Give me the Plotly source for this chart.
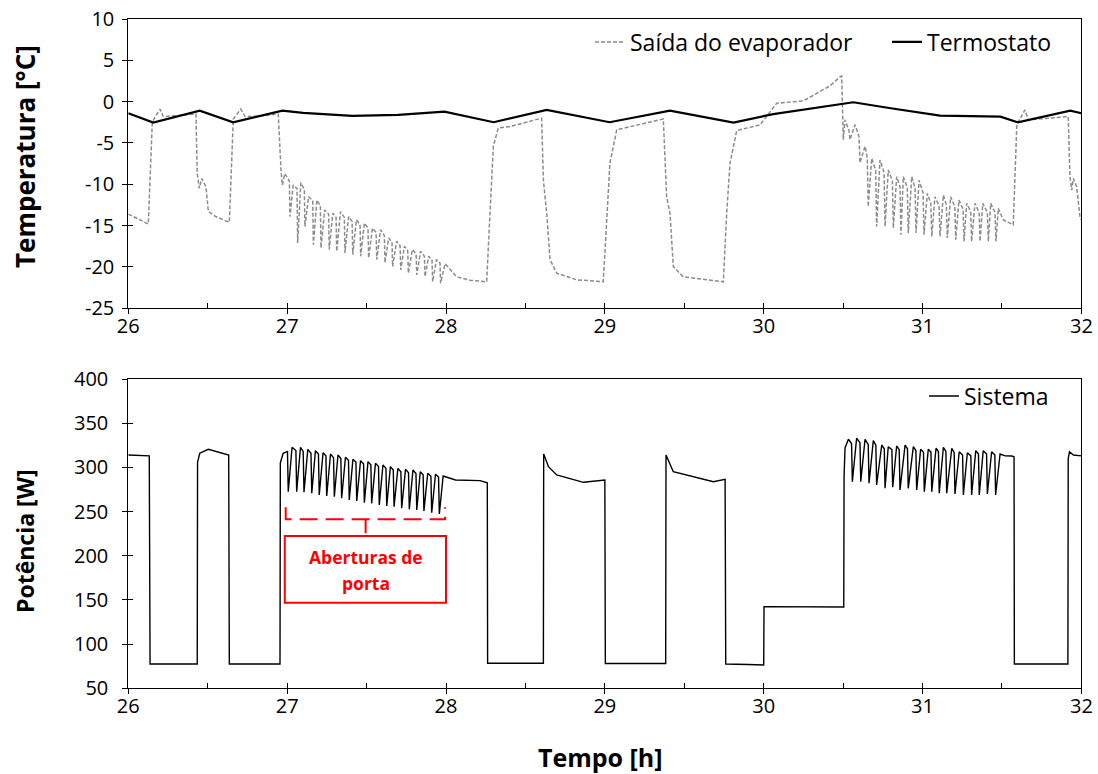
import plotly.graph_objects as go

# ---------------- data ----------------
# Termostato (solid black), top panel
termo_t = [26.00, 26.157, 26.45, 26.66, 26.97, 27.10, 27.41, 27.70, 27.99, 28.30, 28.634, 29.03,
           29.41, 29.81, 30.06, 30.42, 30.50, 30.564, 30.80, 31.11, 31.49, 31.60, 31.93, 32.00]
termo_T = [-1.4, -2.54, -1.09, -2.5, -1.09, -1.35, -1.73, -1.6, -1.2, -2.49, -1.0, -2.49,
           -1.09, -2.54, -1.5, -0.52, -0.32, -0.07, -0.8, -1.69, -1.81, -2.49, -1.09, -1.4]

# Saída do evaporador (dashed grey), top panel, split in segments
evap_t_a = [26.000, 26.060, 26.126, 26.151, 26.170, 26.200, 26.220, 26.300, 26.426, 26.434, 26.447,
            26.462, 26.489, 26.504, 26.550, 26.636, 26.661, 26.708, 26.735, 26.850, 26.944, 26.962]
evap_T_a = [-13.6, -14.2, -14.8, -2.5, -1.8, -0.9, -1.8, -1.7, -1.5, -8.7, -10.5,
            -9.3, -10.3, -13.3, -13.9, -14.6, -2.1, -0.9, -1.8, -1.7, -1.5, -8.5]

evap_t_door1 = [26.970, 26.985, 27.014, 27.018, 27.038, 27.062, 27.066, 27.086, 27.108,
                27.112, 27.135, 27.161, 27.165, 27.187, 27.209, 27.213, 27.236, 27.261,
                27.265, 27.287, 27.308, 27.312, 27.336, 27.360, 27.364, 27.387, 27.409,
                27.413, 27.436, 27.459, 27.463, 27.486, 27.509, 27.513, 27.537, 27.560,
                27.564, 27.588, 27.612, 27.616, 27.639, 27.660, 27.664, 27.689, 27.711,
                27.715, 27.738, 27.759, 27.763, 27.788, 27.812, 27.816, 27.840, 27.864,
                27.868, 27.891, 27.912, 27.916, 27.940, 27.962, 27.966, 27.994]
evap_T_door1 = [-10.1, -8.7, -9.6, -13.9, -10.1, -10.5, -17.1, -9.8, -10.6,
                -15.1, -11.5, -12.0, -17.3, -11.9, -12.6, -17.7, -13.1, -13.6,
                -17.9, -13.5, -14.0, -18.1, -13.3, -14.0, -18.3, -13.9, -14.5,
                -18.5, -14.3, -14.9, -18.7, -14.7, -15.3, -18.9, -15.3, -15.8,
                -19.1, -15.5, -16.2, -19.5, -16.5, -17.0, -19.95, -16.9, -17.4,
                -20.35, -17.5, -18.0, -20.75, -17.9, -18.4, -20.96, -18.1, -18.7,
                -21.16, -18.7, -19.2, -21.77, -19.1, -19.5, -21.96, -19.6]

evap_t_b = [28.030, 28.067, 28.150, 28.214, 28.256, 28.277, 28.298, 28.329, 28.403, 28.602, 28.613,
            28.634, 28.655, 28.697, 28.823, 28.990, 29.012, 29.032, 29.075, 29.368, 29.389, 29.410,
            29.431, 29.494, 29.746, 29.767, 29.788, 29.830, 29.977, 30.040, 30.082, 30.250, 30.417,
            30.480, 30.491]
evap_T_b = [-20.4, -21.2, -21.6, -21.7, -21.8, -13.5, -5.4, -3.2, -3.0, -2.0, -9.5,
            -13.5, -19.1, -20.75, -21.56, -21.77, -13.5, -7.45, -3.4, -2.1, -11.5, -13.5,
            -19.95, -21.2, -21.8, -13.5, -7.45, -3.5, -2.8, -1.2, -0.2, 0.1, 1.9,
            3.0, 3.1]

evap_t_door2 = [30.501, 30.512, 30.537, 30.543, 30.575, 30.600, 30.606, 30.638, 30.652,
                30.658, 30.680, 30.705, 30.711, 30.732, 30.758, 30.764, 30.784, 30.810,
                30.816, 30.837, 30.858, 30.864, 30.879, 30.904, 30.910, 30.932, 30.953,
                30.959, 30.978, 31.003, 31.009, 31.030, 31.052, 31.058, 31.078, 31.104,
                31.110, 31.131, 31.150, 31.156, 31.177, 31.203, 31.209, 31.229, 31.255,
                31.261, 31.278, 31.303, 31.309, 31.330, 31.356, 31.362, 31.379, 31.408,
                31.414, 31.429, 31.456, 31.462, 31.477]
evap_T_door2 = [-4.6, -2.2, -3.5, -4.6, -2.8, -4.2, -7.4, -5.4, -6.8,
                -12.7, -6.85, -8.3, -15.1, -7.05, -8.6, -15.1, -8.26, -9.6,
                -15.3, -9.07, -10.3, -16.1, -9.07, -10.4, -15.9, -9.07, -10.5,
                -15.9, -9.5, -11.0, -16.1, -11.1, -12.3, -16.3, -11.5, -12.6,
                -16.3, -11.3, -12.5, -16.5, -11.5, -12.7, -16.7, -11.9, -13.0,
                -16.9, -12.3, -13.3, -16.9, -12.3, -13.4, -16.9, -12.3, -13.4,
                -16.9, -12.3, -13.4, -16.9, -12.9]

evap_t_c = [31.508, 31.571, 31.593, 31.603, 31.645, 31.666, 31.917, 31.928, 31.939, 31.949,
            31.970, 31.991, 32.000]
evap_T_c = [-14.3, -14.9, -3.0, -2.4, -1.0, -2.2, -1.8, -9.07, -10.7, -9.3,
            -10.3, -13.9, -14.3]

# Sistema (power), bottom panel
pot_t_a = [26.000, 26.132, 26.137, 26.434, 26.436, 26.450, 26.504, 26.580, 26.632, 26.636,
           26.955, 26.957, 26.975, 27.002]
pot_W_a = [314, 313, 77.5, 77.5, 306, 316, 320.4, 317, 314, 77.5,
           77.5, 305, 316, 318]

pot_t_door1 = [27.007, 27.031, 27.055, 27.060, 27.084, 27.101, 27.106, 27.130, 27.150,
               27.155, 27.178, 27.197, 27.202, 27.226, 27.244, 27.249, 27.273, 27.292,
               27.297, 27.320, 27.338, 27.343, 27.367, 27.386, 27.391, 27.414, 27.433,
               27.438, 27.462, 27.481, 27.486, 27.509, 27.527, 27.532, 27.556, 27.575,
               27.580, 27.603, 27.622, 27.627, 27.650, 27.668, 27.673, 27.697, 27.716,
               27.721, 27.745, 27.764, 27.769, 27.792, 27.811, 27.816, 27.838, 27.856,
               27.861, 27.885, 27.905, 27.910, 27.934, 27.953]
pot_W_door1 = [272.5, 322.7, 319, 272.5, 322.7, 318, 271.8, 320.4, 316,
               270.7, 318.9, 315, 268.7, 316.6, 313, 267.6, 315.1, 311,
               266.8, 314.0, 310, 265.0, 311.4, 308, 263.1, 309.1, 306,
               262.0, 307.6, 304, 260.0, 306.5, 303, 259.3, 304.6, 301,
               257.4, 302.7, 299, 256.3, 300.8, 297, 255.5, 298.9, 295,
               253.7, 297.8, 294, 252.6, 297.0, 293, 251.8, 295.1, 291.5,
               250.6, 293.3, 290, 248.7, 292.2, 289]

pot_t_b = [27.958, 27.982, 28.020, 28.060, 28.214, 28.245, 28.260, 28.262, 28.613, 28.615,
           28.645, 28.697, 28.865, 29.000, 29.003, 29.383, 29.385, 29.431, 29.557, 29.683,
           29.757, 29.761, 29.900, 30.000, 30.002, 30.250, 30.504]
pot_W_b = [247.2, 290.2, 288, 285.7, 285, 282.7, 282.5, 78.3, 78.3, 315.1,
           300.8, 291.4, 283.1, 285.7, 78, 78, 314, 295.1, 289.5, 283.8,
           286.5, 77.5, 77, 76.4, 142.4, 142, 142]

pot_t_door2 = [30.506, 30.512, 30.533, 30.553,
               30.558, 30.585, 30.606, 30.611, 30.638, 30.658, 30.663, 30.690, 30.706,
               30.711, 30.743, 30.759, 30.764, 30.784, 30.807, 30.812, 30.837, 30.853,
               30.858, 30.890, 30.905, 30.910, 30.942, 30.958, 30.963, 30.988, 31.006,
               31.011, 31.036, 31.053, 31.058, 31.085, 31.100, 31.105, 31.131, 31.147,
               31.152, 31.184, 31.199, 31.204, 31.231, 31.252, 31.257, 31.282, 31.304,
               31.309, 31.335, 31.352, 31.357, 31.382, 31.403, 31.408, 31.435, 31.455]
pot_W_door2 = [290, 322, 331.8, 327,
               283.8, 332.9, 328, 283.8, 331.8, 326, 282.0, 330.2, 325,
               280.1, 325.3, 321, 276.3, 323.4, 320, 277.5, 324.2, 320,
               274.4, 325.3, 321, 276.3, 323.4, 319, 274.4, 320.4, 317,
               272.5, 320.4, 317, 272.5, 321.6, 318, 270.7, 322.7, 318,
               270.7, 321.6, 317, 269.9, 317.7, 314, 268.7, 316.6, 313,
               268.7, 318.9, 315, 268.7, 318.9, 315, 269.9, 317.7, 314]

pot_t_c = [31.460, 31.488, 31.520, 31.561, 31.576, 31.578, 31.915, 31.917, 31.925, 31.950, 32.000]
pot_W_c = [268.7, 315.1, 313, 312.9, 312, 77.5, 77.5, 310, 317.7, 314, 313]

x_ticks = [26, 27, 28, 29, 30, 31, 32]
temp_ticks = [-25, -20, -15, -10, -5, 0, 5, 10]
pot_ticks = [50, 100, 150, 200, 250, 300, 350, 400]

evap_t = evap_t_a + evap_t_door1 + evap_t_b + evap_t_door2 + evap_t_c
evap_T = evap_T_a + evap_T_door1 + evap_T_b + evap_T_door2 + evap_T_c
pot_t = pot_t_a + pot_t_door1 + pot_t_b + pot_t_door2 + pot_t_c
pot_W = pot_W_a + pot_W_door1 + pot_W_b + pot_W_door2 + pot_W_c
assert len(evap_t) == len(evap_T) and len(pot_t) == len(pot_W)

# ---------------- figure ----------------
FONT = "Open Sans"
W, H = 1098, 774
xd = [128.3 / W, 1081.4 / W]
yd_top = [(H - 308.3) / H, (H - 19) / H]
yd_bot = [(H - 688.3) / H, (H - 379) / H]

fig = go.Figure()
fig.add_trace(go.Scatter(x=evap_t, y=evap_T, mode="lines", name="Saída do evaporador",
                         line=dict(color="#8c8c8c", width=1.5, dash="4px,2px"),
                         xaxis="x", yaxis="y", legend="legend"))
fig.add_trace(go.Scatter(x=termo_t, y=termo_T, mode="lines", name="Termostato",
                         line=dict(color="black", width=2.2),
                         xaxis="x", yaxis="y", legend="legend3"))
fig.add_trace(go.Scatter(x=pot_t, y=pot_W, mode="lines", name="Sistema",
                         line=dict(color="black", width=1.4),
                         xaxis="x2", yaxis="y2", legend="legend2"))
# empty traces carrying the overlay tick axes (ticks crossing the axis lines)
fig.add_trace(go.Scatter(x=[], y=[], xaxis="x3", yaxis="y3", showlegend=False, hoverinfo="skip"))
fig.add_trace(go.Scatter(x=[], y=[], xaxis="x4", yaxis="y4", showlegend=False, hoverinfo="skip"))

tickfont = dict(family=FONT, size=20, color="black")

def xaxis(anchor):
    return dict(domain=xd, anchor=anchor, range=[26, 32], tickmode="array", tickvals=x_ticks,
                ticktext=[str(v) for v in x_ticks], ticks="inside", ticklen=5, tickwidth=1,
                tickcolor="black", showline=True, linecolor="black", linewidth=1, mirror=True,
                showgrid=False, zeroline=False, tickfont=tickfont, automargin=False,
                ticklabelstandoff=0,
                minor=dict(tick0=26, dtick=0.5, ticks="inside", ticklen=5, tickcolor="black",
                           tickwidth=1, showgrid=False))

def yaxis(anchor, dom, rng, vals, standoff):
    return dict(domain=dom, anchor=anchor, range=rng, tickmode="array", tickvals=vals,
                ticktext=[str(v) for v in vals], ticks="outside", ticklen=5, tickwidth=1,
                tickcolor="black", showline=True, linecolor="black", linewidth=1, mirror=True,
                showgrid=False, zeroline=False, tickfont=tickfont, ticklabelstandoff=standoff,
                automargin=False)

def over_x(ov, anchor):
    return dict(overlaying=ov, anchor=anchor, range=[26, 32], tickmode="array", tickvals=x_ticks,
                ticks="outside", ticklen=5, tickwidth=1, tickcolor="black", showticklabels=False,
                showline=False, showgrid=False, zeroline=False, automargin=False)

def over_y(ov, anchor, rng, vals):
    return dict(overlaying=ov, anchor=anchor, range=rng, tickmode="array", tickvals=vals,
                ticks="inside", ticklen=5, tickwidth=1, tickcolor="black", showticklabels=False,
                showline=False, showgrid=False, zeroline=False, automargin=False)

def legend_at(x_right, y_mid):
    return dict(orientation="h", x=x_right / W, xanchor="right", y=(H - y_mid) / H,
                yanchor="middle", font=dict(family=FONT, size=23, color="black"),
                bgcolor="rgba(0,0,0,0)", itemwidth=30)

fig.update_layout(
    width=W, height=H,
    margin=dict(l=0, r=0, t=0, b=0, autoexpand=False),
    paper_bgcolor="white", plot_bgcolor="white",
    font=dict(family=FONT, color="black"),
    xaxis=xaxis("y"),
    yaxis=yaxis("x", yd_top, [-25, 10], temp_ticks, 4),
    xaxis2=xaxis("y2"),
    yaxis2=yaxis("x2", yd_bot, [50, 400], pot_ticks, 10),
    xaxis3=over_x("x", "y"),
    yaxis3=over_y("y", "x", [-25, 10], temp_ticks),
    xaxis4=over_x("x2", "y2"),
    yaxis4=over_y("y2", "x2", [50, 400], pot_ticks),
    legend=legend_at(859, 42),
    legend3=legend_at(1057, 42),
    legend2=legend_at(1054, 396),
    showlegend=True,
)

# axis titles
fig.add_annotation(text="Temperatura [°C]", xref="paper", yref="paper", x=25 / W, y=(H - 157) / H,
                   textangle=-90, showarrow=False, xanchor="center", yanchor="middle",
                   font=dict(family=FONT, size=26, color="black", weight="bold"))
fig.add_annotation(text="Potência [W]", xref="paper", yref="paper", x=25 / W, y=(H - 541) / H,
                   textangle=-90, showarrow=False, xanchor="center", yanchor="middle",
                   font=dict(family=FONT, size=23, color="black", weight="bold"))
fig.add_annotation(text="Tempo [h]", xref="paper", yref="paper", x=600 / W, y=(H - 757) / H,
                   showarrow=False, xanchor="center", yanchor="middle",
                   font=dict(family=FONT, size=25, color="black", weight="bold"))

# "Aberturas de porta" bracket and box
RED = "#ff0000"
fig.add_shape(type="path", xref="x2", yref="y2",
              path="M 26.991 255 L 26.991 241.3 L 27.994 241.3 L 27.994 255",
              line=dict(color=RED, width=2, dash="18px,8px"))
fig.add_shape(type="line", xref="x2", yref="y2", x0=27.494, x1=27.494, y0=241.3, y1=225.5,
              line=dict(color=RED, width=2))
fig.add_shape(type="rect", xref="x2", yref="y2", x0=26.985, x1=28.0, y0=146.9, y1=222.4,
              line=dict(color=RED, width=2), fillcolor="rgba(0,0,0,0)")
fig.add_annotation(text="Aberturas de", xref="x2", yref="y2", x=27.494, y=198.6,
                   showarrow=False, xanchor="center", yanchor="middle",
                   font=dict(family=FONT, size=17.5, color=RED, weight="bold"))
fig.add_annotation(text="porta", xref="x2", yref="y2", x=27.494, y=169.2,
                   showarrow=False, xanchor="center", yanchor="middle",
                   font=dict(family=FONT, size=17.5, color=RED, weight="bold"))

fig.write_html("out.html")
